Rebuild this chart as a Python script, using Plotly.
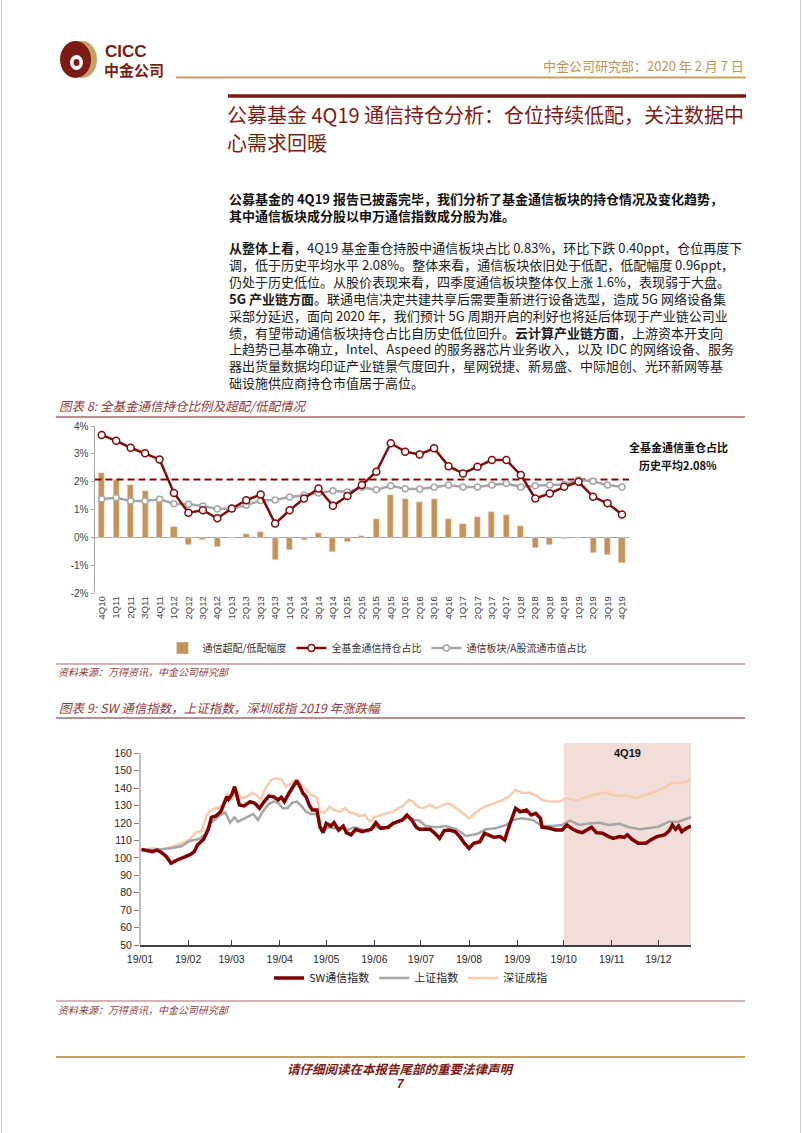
import plotly.graph_objects as go

W, H = 802, 1133
CJK = "Noto Sans CJK SC"
SANS = "Liberation Sans, Arial, Noto Sans CJK SC"
DARK_RED = "#7B1B13"
GOLD = "#C09455"
TITLE_RED = "#8E3A3A"
RULE_RED = "#A86A6A"

# ---------------- chart 1 data (图表 8) ----------------
QUARTERS = ["4Q10", "1Q11", "2Q11", "3Q11", "4Q11", "1Q12", "2Q12", "3Q12", "4Q12",
            "1Q13", "2Q13", "3Q13", "4Q13", "1Q14", "2Q14", "3Q14", "4Q14",
            "1Q15", "2Q15", "3Q15", "4Q15", "1Q16", "2Q16", "3Q16", "4Q16",
            "1Q17", "2Q17", "3Q17", "4Q17", "1Q18", "2Q18", "3Q18", "4Q18",
            "1Q19", "2Q19", "3Q19", "4Q19"]
FUND_HOLDING = [3.68, 3.47, 3.22, 3.02, 2.80, 1.60, 0.89, 0.98, 0.69,
                1.04, 1.34, 1.54, 0.50, 0.98, 1.40, 1.76, 1.14,
                1.49, 1.88, 2.36, 3.38, 3.08, 2.98, 3.20, 2.56,
                2.30, 2.54, 2.78, 2.78, 2.24, 1.40, 1.58, 1.82,
                2.00, 1.46, 1.23, 0.83]
MARKET_SHARE = [1.38, 1.43, 1.31, 1.31, 1.37, 1.21, 1.19, 1.13, 1.02,
                1.04, 1.16, 1.33, 1.35, 1.45, 1.52, 1.60, 1.68,
                1.63, 1.80, 1.71, 1.86, 1.75, 1.74, 1.80, 1.88,
                1.81, 1.81, 1.88, 1.94, 1.81, 1.86, 1.88, 1.90,
                2.06, 2.02, 1.88, 1.81]
OVERWEIGHT = [2.30, 2.06, 1.88, 1.68, 1.28, 0.38, -0.25, -0.10, -0.34,
              0.00, 0.14, 0.19, -0.81, -0.46, -0.10, 0.16, -0.51,
              -0.16, 0.05, 0.65, 1.52, 1.37, 1.26, 1.37, 0.68,
              0.49, 0.74, 0.91, 0.80, 0.42, -0.37, -0.25, -0.06,
              -0.02, -0.57, -0.61, -0.93]
HIST_AVG = 2.08
Y1_TICKS = [-2, -1, 0, 1, 2, 3, 4]
Y1_LABELS = ["-2%", "-1%", "0%", "1%", "2%", "3%", "4%"]

# ---------------- chart 2 data (图表 9) ----------------
SW_DATES = ["2019-01-02", "2019-01-05", "2019-01-09", "2019-01-12", "2019-01-15", "2019-01-18", "2019-01-21",
            "2019-01-25", "2019-01-29", "2019-02-02", "2019-02-05", "2019-02-07", "2019-02-11", "2019-02-14",
            "2019-02-16", "2019-02-19", "2019-02-22", "2019-02-26", "2019-02-27", "2019-03-01", "2019-03-03",
            "2019-03-05", "2019-03-06", "2019-03-09", "2019-03-13", "2019-03-16", "2019-03-19", "2019-03-22",
            "2019-03-25", "2019-03-28", "2019-03-31", "2019-04-02", "2019-04-04", "2019-04-07", "2019-04-10",
            "2019-04-12", "2019-04-14", "2019-04-16", "2019-04-18", "2019-04-20", "2019-04-22", "2019-04-25",
            "2019-04-27", "2019-04-29", "2019-05-01", "2019-05-04", "2019-05-06", "2019-05-09", "2019-05-12",
            "2019-05-14", "2019-05-17", "2019-05-20", "2019-05-24", "2019-05-27", "2019-05-30", "2019-06-02",
            "2019-06-05", "2019-06-10", "2019-06-13", "2019-06-16", "2019-06-19", "2019-06-22", "2019-06-25",
            "2019-06-28", "2019-06-30", "2019-07-02", "2019-07-07", "2019-07-10", "2019-07-13", "2019-07-16",
            "2019-07-19", "2019-07-23", "2019-07-26", "2019-07-29", "2019-08-01", "2019-08-04", "2019-08-08",
            "2019-08-11", "2019-08-14", "2019-08-17", "2019-08-21", "2019-08-24", "2019-08-26", "2019-08-29",
            "2019-08-31", "2019-09-03", "2019-09-07", "2019-09-10", "2019-09-13", "2019-09-16", "2019-09-17",
            "2019-09-22", "2019-09-26", "2019-09-30", "2019-10-03", "2019-10-07", "2019-10-10", "2019-10-13",
            "2019-10-16", "2019-10-19", "2019-10-22", "2019-10-26", "2019-10-30", "2019-11-02", "2019-11-06",
            "2019-11-09", "2019-11-11", "2019-11-14", "2019-11-18", "2019-11-23", "2019-11-26", "2019-11-30",
            "2019-12-05", "2019-12-08", "2019-12-10", "2019-12-12", "2019-12-14", "2019-12-16", "2019-12-19",
            "2019-12-22"]
SW_VALUES = [104.9, 104.5, 103.6, 104.5, 103.0, 100.7, 96.9,
             98.8, 100.3, 101.7, 103.6, 107.4, 110.7, 116.4,
             123.3, 124.1, 126.5, 135.1, 133.6, 136.1, 140.9,
             133.6, 130.4, 129.8, 132.3, 131.3, 128.5, 132.3,
             135.5, 135.1, 133.2, 134.8, 132.3, 137.1, 141.8,
             144.3, 140.9, 137.1, 135.1, 130.4, 127.5, 127.5,
             117.6, 114.5, 119.8, 118.3, 120.2, 116.0, 118.3,
             114.5, 113.2, 116.4, 115.1, 116.0, 116.4, 120.2,
             117.0, 117.6, 119.8, 120.8, 121.8, 124.6, 121.8,
             117.6, 116.4, 116.4, 116.4, 114.1, 111.2, 115.6,
             116.0, 115.1, 112.2, 108.4, 105.5, 108.4, 109.3,
             114.1, 113.2, 111.8, 112.2, 110.3, 116.0, 122.7,
             128.5, 126.5, 127.5, 124.6, 125.6, 122.7, 117.6,
             117.0, 116.0, 116.0, 118.9, 116.4, 115.1, 114.5,
             116.0, 117.6, 114.5, 114.1, 112.2, 111.2, 112.2,
             111.8, 113.2, 110.7, 108.4, 108.4, 110.3, 112.2,
             113.2, 115.6, 118.9, 116.4, 118.3, 115.1, 117.0,
             118.3]

SH_DATES = ["2019-01-02", "2019-01-09", "2019-01-15", "2019-01-21", "2019-01-28", "2019-02-02", "2019-02-05",
            "2019-02-09", "2019-02-12", "2019-02-15", "2019-02-18", "2019-02-21", "2019-02-25", "2019-02-28",
            "2019-03-03", "2019-03-05", "2019-03-08", "2019-03-12", "2019-03-15", "2019-03-18", "2019-03-21",
            "2019-03-25", "2019-03-28", "2019-03-31", "2019-04-03", "2019-04-06", "2019-04-09", "2019-04-12",
            "2019-04-15", "2019-04-18", "2019-04-21", "2019-04-25", "2019-04-27", "2019-04-30", "2019-05-03",
            "2019-05-06", "2019-05-11", "2019-05-15", "2019-05-19", "2019-05-24", "2019-05-28", "2019-06-01",
            "2019-06-05", "2019-06-10", "2019-06-14", "2019-06-18", "2019-06-23", "2019-06-27", "2019-06-30",
            "2019-07-04", "2019-07-11", "2019-07-17", "2019-07-24", "2019-07-30", "2019-08-06", "2019-08-12",
            "2019-08-18", "2019-08-25", "2019-08-29", "2019-09-04", "2019-09-11", "2019-09-17", "2019-09-24",
            "2019-09-30", "2019-10-05", "2019-10-11", "2019-10-17", "2019-10-24", "2019-10-30", "2019-11-06",
            "2019-11-12", "2019-11-19", "2019-11-25", "2019-12-01", "2019-12-08", "2019-12-14", "2019-12-22"]
SH_VALUES = [104.9, 104.5, 104.9, 105.5, 106.8, 109.7, 110.3,
             111.2, 113.7, 119.8, 121.8, 124.1, 126.0, 120.2,
             123.3, 120.8, 122.1, 124.1, 125.2, 121.8, 126.5,
             130.9, 132.3, 131.7, 128.5, 128.5, 131.7, 132.3,
             129.8, 126.5, 125.2, 125.2, 117.6, 116.4, 117.6,
             117.0, 117.0, 116.0, 117.6, 116.4, 115.1, 117.6,
             117.6, 117.6, 119.8, 121.4, 123.3, 121.8, 121.4,
             118.3, 117.6, 118.3, 116.4, 112.6, 113.7, 116.4,
             117.0, 118.9, 121.8, 122.7, 121.8, 118.3, 118.3,
             118.9, 121.4, 118.9, 119.8, 120.2, 118.9, 119.6,
             117.6, 116.4, 117.0, 117.9, 120.8, 120.8, 123.3]

SZ_DATES = ["2019-01-02", "2019-01-09", "2019-01-15", "2019-01-21", "2019-01-28", "2019-02-02", "2019-02-06",
            "2019-02-10", "2019-02-13", "2019-02-16", "2019-02-19", "2019-02-23", "2019-02-26", "2019-03-01",
            "2019-03-04", "2019-03-07", "2019-03-11", "2019-03-14", "2019-03-17", "2019-03-20", "2019-03-23",
            "2019-03-27", "2019-03-30", "2019-04-02", "2019-04-05", "2019-04-09", "2019-04-12", "2019-04-15",
            "2019-04-18", "2019-04-21", "2019-04-25", "2019-04-27", "2019-04-30", "2019-05-03", "2019-05-06",
            "2019-05-10", "2019-05-13", "2019-05-16", "2019-05-19", "2019-05-22", "2019-05-26", "2019-05-29",
            "2019-06-01", "2019-06-05", "2019-06-10", "2019-06-13", "2019-06-16", "2019-06-19", "2019-06-23",
            "2019-06-26", "2019-06-29", "2019-07-02", "2019-07-07", "2019-07-11", "2019-07-15", "2019-07-19",
            "2019-07-24", "2019-07-28", "2019-08-01", "2019-08-04", "2019-08-09", "2019-08-14", "2019-08-18",
            "2019-08-23", "2019-08-27", "2019-08-31", "2019-09-04", "2019-09-09", "2019-09-13", "2019-09-17",
            "2019-09-22", "2019-09-28", "2019-10-03", "2019-10-09", "2019-10-15", "2019-10-22", "2019-10-28",
            "2019-11-04", "2019-11-10", "2019-11-16", "2019-11-23", "2019-11-29", "2019-12-06", "2019-12-10",
            "2019-12-14", "2019-12-19", "2019-12-22"]
SZ_VALUES = [103.6, 105.5, 104.9, 106.1, 108.4, 110.7, 114.5,
             115.6, 124.6, 127.5, 128.5, 129.8, 137.1, 133.2,
             139.3, 134.2, 135.1, 137.4, 136.1, 133.6, 140.5,
             145.1, 145.7, 145.1, 140.9, 143.2, 145.1, 141.8,
             139.3, 136.1, 134.8, 126.5, 126.0, 129.4, 127.5,
             126.5, 128.5, 126.0, 125.6, 124.1, 124.6, 120.8,
             123.3, 124.6, 125.6, 126.5, 128.5, 129.4, 133.2,
             132.3, 129.4, 128.5, 130.4, 128.5, 130.4, 131.3,
             128.5, 125.6, 122.7, 125.2, 128.5, 130.4, 131.7,
             133.2, 135.5, 139.0, 137.4, 137.4, 136.1, 133.2,
             132.3, 132.3, 134.2, 132.9, 134.8, 136.7, 137.4,
             135.5, 136.1, 134.2, 136.1, 138.0, 140.9, 143.2,
             142.8, 143.7, 145.1]

MONTH_TICKS = ["2019-01-01", "2019-02-01", "2019-03-01", "2019-04-01", "2019-05-01", "2019-06-01",
               "2019-07-01", "2019-08-01", "2019-09-01", "2019-10-01", "2019-11-01", "2019-12-01"]
MONTH_LABELS = ["19/01", "19/02", "19/03", "19/04", "19/05", "19/06",
                "19/07", "19/08", "19/09", "19/10", "19/11", "19/12"]
Y2_TICKS = [50, 60, 70, 80, 90, 100, 110, 120, 130, 140, 150, 160]
Q4_START = "2019-10-01"
Q4_LABEL_DATE = "2019-11-11"


def px(x):
    return x / W


def py(y):
    return 1 - y / H


fig = go.Figure()

# ---------- chart 1 traces ----------
idx = list(range(len(QUARTERS)))
fig.add_trace(go.Bar(x=idx, y=OVERWEIGHT, name="通信超配/低配幅度", marker_color="#C69255",
                     width=0.42, xaxis="x", yaxis="y", legend="legend", legendrank=1))
fig.add_trace(go.Scatter(x=[idx[0] - 0.5, idx[-1] + 0.5], y=[HIST_AVG, HIST_AVG], mode="lines",
                         line=dict(color="#8B0000", width=2, dash="7px,4px"), showlegend=False,
                         hoverinfo="skip", xaxis="x", yaxis="y"))
fig.add_trace(go.Scatter(x=idx, y=MARKET_SHARE, name="通信板块/A股流通市值占比", mode="lines+markers",
                         line=dict(color="#A6A6A6", width=2.5),
                         marker=dict(symbol="circle", size=6, color="white",
                                     line=dict(color="#A6A6A6", width=1.5)),
                         xaxis="x", yaxis="y", legend="legend", legendrank=3))
fig.add_trace(go.Scatter(x=idx, y=FUND_HOLDING, name="全基金通信持仓占比", mode="lines+markers",
                         line=dict(color="#7E0C0C", width=2.5),
                         marker=dict(symbol="circle", size=7, color="white",
                                     line=dict(color="#7E0C0C", width=1.5)),
                         xaxis="x", yaxis="y", legend="legend", legendrank=2))

# ---------- chart 2 traces ----------
fig.add_trace(go.Scatter(x=SZ_DATES, y=SZ_VALUES, name="深证成指", mode="lines",
                         line=dict(color="#F8CBAD", width=2.5), xaxis="x2", yaxis="y2",
                         legend="legend2", legendrank=13))
fig.add_trace(go.Scatter(x=SH_DATES, y=SH_VALUES, name="上证指数", mode="lines",
                         line=dict(color="#A5A5A5", width=2.5), xaxis="x2", yaxis="y2",
                         legend="legend2", legendrank=12))
fig.add_trace(go.Scatter(x=SW_DATES, y=SW_VALUES, name="SW通信指数", mode="lines",
                         line=dict(color="#7F0000", width=3.5), xaxis="x2", yaxis="y2",
                         legend="legend2", legendrank=11))

axis_font = dict(family=SANS, size=10, color="#404040")

fig.update_layout(
    margin=dict(l=0, r=0, t=0, b=0),
    paper_bgcolor="white", plot_bgcolor="rgba(0,0,0,0)",
    font=dict(family=CJK, color="#222222"),
    bargap=0,
    xaxis=dict(domain=[px(94.5), px(629.2)], range=[-0.5, len(QUARTERS) - 0.5], anchor="y",
               tickmode="array", tickvals=idx, ticktext=QUARTERS, tickangle=-90,
               showline=False, showgrid=False, zeroline=False, ticks="", automargin=False,
               tickfont=dict(family=SANS, size=9.5, color="#404040")),
    yaxis=dict(domain=[py(593.3), py(426)], range=[-2, 4], anchor="x", automargin=False,
               tickmode="array", tickvals=Y1_TICKS, ticktext=Y1_LABELS,
               showline=True, linecolor="#A6A6A6", linewidth=1,
               ticks="outside", ticklen=3, tickcolor="#A6A6A6",
               showgrid=False, zeroline=True, zerolinecolor="#A6A6A6", zerolinewidth=1,
               tickfont=axis_font),
    xaxis2=dict(type="date", domain=[px(140), px(691)], range=["2019-01-01", SW_DATES[-1]], anchor="y2",
                tickmode="array", tickvals=MONTH_TICKS, ticktext=MONTH_LABELS, automargin=False,
                ticks="inside", ticklen=5, tickcolor="#404040", ticklabelstandoff=4,
                showline=True, linecolor="#404040", linewidth=1.5,
                showgrid=False, zeroline=False,
                tickfont=dict(family=SANS, size=10.5, color="#262626")),
    yaxis2=dict(domain=[py(945), py(742.9)], range=[50, 166], anchor="x2", automargin=False,
                tickmode="array", tickvals=Y2_TICKS,
                ticks="outside", ticklen=5, tickcolor="#808080",
                showline=False, showgrid=False, zeroline=False,
                tickfont=dict(family=SANS, size=10.5, color="#262626")),
    legend=dict(orientation="h", x=px(377), xanchor="center", y=py(648), yanchor="middle",
                font=dict(family=CJK, size=10, color="#333333"), bgcolor="rgba(0,0,0,0)",
                itemwidth=30, traceorder="normal"),
    legend2=dict(orientation="h", x=px(411), xanchor="center", y=py(978), yanchor="middle",
                 font=dict(family=CJK, size=11, color="#262626"), bgcolor="rgba(0,0,0,0)",
                 itemwidth=30, traceorder="normal"),
)

shapes = []


def hline(x0, x1, y, color, width):
    shapes.append(dict(type="line", xref="paper", yref="paper", x0=px(x0), x1=px(x1),
                       y0=py(y), y1=py(y), line=dict(color=color, width=width)))


# page border
shapes.append(dict(type="line", xref="paper", yref="paper", x0=px(1.5), x1=px(1.5), y0=0, y1=1,
                   line=dict(color="#CFCFCF", width=1)))
shapes.append(dict(type="line", xref="paper", yref="paper", x0=px(800.5), x1=px(800.5), y0=0, y1=1,
                   line=dict(color="#CFCFCF", width=1)))

# header rules
hline(176, 746, 77.5, "#C9A063", 2)
hline(228, 746, 96, DARK_RED, 3.5)
# chart title rules
hline(56, 745, 417, RULE_RED, 1.5)
hline(56, 745, 664, RULE_RED, 1.2)
hline(56, 745, 718, RULE_RED, 1.5)
hline(56, 745, 1001, RULE_RED, 1.2)
# footer rule
hline(56, 745, 1057, "#C9A063", 2)

# logo
shapes.append(dict(type="circle", xref="paper", yref="paper", x0=px(68), x1=px(97), y0=py(78), y1=py(41),
                   fillcolor="#C9A063", line=dict(width=0)))
shapes.append(dict(type="circle", xref="paper", yref="paper", x0=px(60), x1=px(91), y0=py(78), y1=py(41),
                   fillcolor=DARK_RED, line=dict(width=0)))
shapes.append(dict(type="circle", xref="paper", yref="paper", x0=px(70), x1=px(83), y0=py(70), y1=py(55),
                   fillcolor="white", line=dict(width=0)))
shapes.append(dict(type="circle", xref="paper", yref="paper", x0=px(73.5), x1=px(79.5), y0=py(66), y1=py(59),
                   fillcolor=DARK_RED, line=dict(width=0)))

# chart 2: y axis line (50 to 160) and 4Q19 shading
shapes.append(dict(type="line", xref="x2 domain", yref="y2", x0=0, x1=0, y0=Y2_TICKS[0], y1=Y2_TICKS[-1],
                   line=dict(color="#808080", width=1)))
shapes.append(dict(type="rect", xref="x2", yref="y2", x0=Q4_START, x1=SW_DATES[-1], y0=50, y1=166,
                   fillcolor="#F2DED8", line=dict(width=0), layer="below"))

ann = []


def T(text, x, y, size, color="#111111", anchor="left", family=CJK, weight="normal", style="normal"):
    ann.append(dict(text=text, x=px(x), y=py(y), xref="paper", yref="paper",
                    xanchor=anchor, yanchor="middle", align=anchor if anchor != "center" else "center",
                    showarrow=False, borderpad=0,
                    font=dict(family=family, size=size, color=color, weight=weight, style=style)))


# header
T("CICC", 104, 51, 17, DARK_RED, family="Liberation Sans, " + CJK, weight="bold")
T("中金公司", 103, 69, 15, DARK_RED, weight="bold")
T("中金公司研究部：2020 年 2 月 7 日", 745, 66, 13, GOLD, anchor="right")

# title (two lines)
T("公募基金 4Q19 通信持仓分析：仓位持续低配，关注数据中", 226, 114.5, 20, DARK_RED)
T("心需求回暖", 226, 142, 20, DARK_RED)

# body
BODY = 13
PITCH = BODY * 1.3
para1 = [
    "公募基金的 4Q19 报告已披露完毕，我们分析了基金通信板块的持仓情况及变化趋势，",
    "其中通信板块成分股以申万通信指数成分股为准。",
]
T("<br>".join(para1), 228, 198.5 + PITCH * (len(para1) - 1) / 2, BODY, "#111111", weight="bold")
para2 = [
    "<b>从整体上看</b>，4Q19 基金重仓持股中通信板块占比 0.83%，环比下跌 0.40ppt，仓位再度下",
    "调，低于历史平均水平 2.08%。整体来看，通信板块依旧处于低配，低配幅度 0.96ppt，",
    "仍处于历史低位。从股价表现来看，四季度通信板块整体仅上涨 1.6%，表现弱于大盘。",
    "<b>5G 产业链方面</b>。联通电信决定共建共享后需要重新进行设备选型，造成 5G 网络设备集",
    "采部分延迟，面向 2020 年，我们预计 5G 周期开启的利好也将延后体现于产业链公司业",
    "绩，有望带动通信板块持仓占比自历史低位回升。<b>云计算产业链方面</b>，上游资本开支向",
    "上趋势已基本确立，Intel、Aspeed 的服务器芯片业务收入，以及 IDC 的网络设备、服务",
    "器出货量数据均印证产业链景气度回升，星网锐捷、新易盛、中际旭创、光环新网等基",
    "础设施供应商持仓市值居于高位。",
]
T("<br>".join(para2), 228, 247 + PITCH * (len(para2) - 1) / 2, BODY, "#1A1A1A")

# chart titles & sources
T("图表 8: 全基金通信持仓比例及超配/低配情况", 58, 406, 12.5, TITLE_RED, style="italic")
T("图表 9: SW 通信指数，上证指数，深圳成指 2019 年涨跌幅", 58, 707, 12.5, TITLE_RED, style="italic")
T("资料来源：万得资讯，中金公司研究部", 57, 671, 10, TITLE_RED, style="italic")
T("资料来源：万得资讯，中金公司研究部", 57, 1009, 10, TITLE_RED, style="italic")

# chart 1 average note
T("全基金通信重仓占比", 678, 447, 11, "#111111", anchor="center", weight="bold")
T("历史平均%.2f%%" % HIST_AVG, 678, 465, 11, "#111111", anchor="center", weight="bold")

# chart 2 4Q19 label
ann.append(dict(text="<b>4Q19</b>", x=Q4_LABEL_DATE, y=Y2_TICKS[-1], xref="x2", yref="y2",
                showarrow=False, xanchor="center", yanchor="middle", borderpad=0,
                font=dict(family=SANS, size=11, color="#111111")))

# footer
T("请仔细阅读在本报告尾部的重要法律声明", 401, 1068, 12.5, DARK_RED, anchor="center", weight="bold", style="italic")
T("7", 401, 1084, 12, DARK_RED, anchor="center", weight="bold", style="italic", family=SANS)

fig.update_layout(shapes=shapes, annotations=ann)

# the figure size comes from the div; pin the div to the page's top-left corner
fig.write_html("out.html", config={"displayModeBar": False},
               default_width="802px; position:absolute; left:0; top:0",
               default_height="1133px")
